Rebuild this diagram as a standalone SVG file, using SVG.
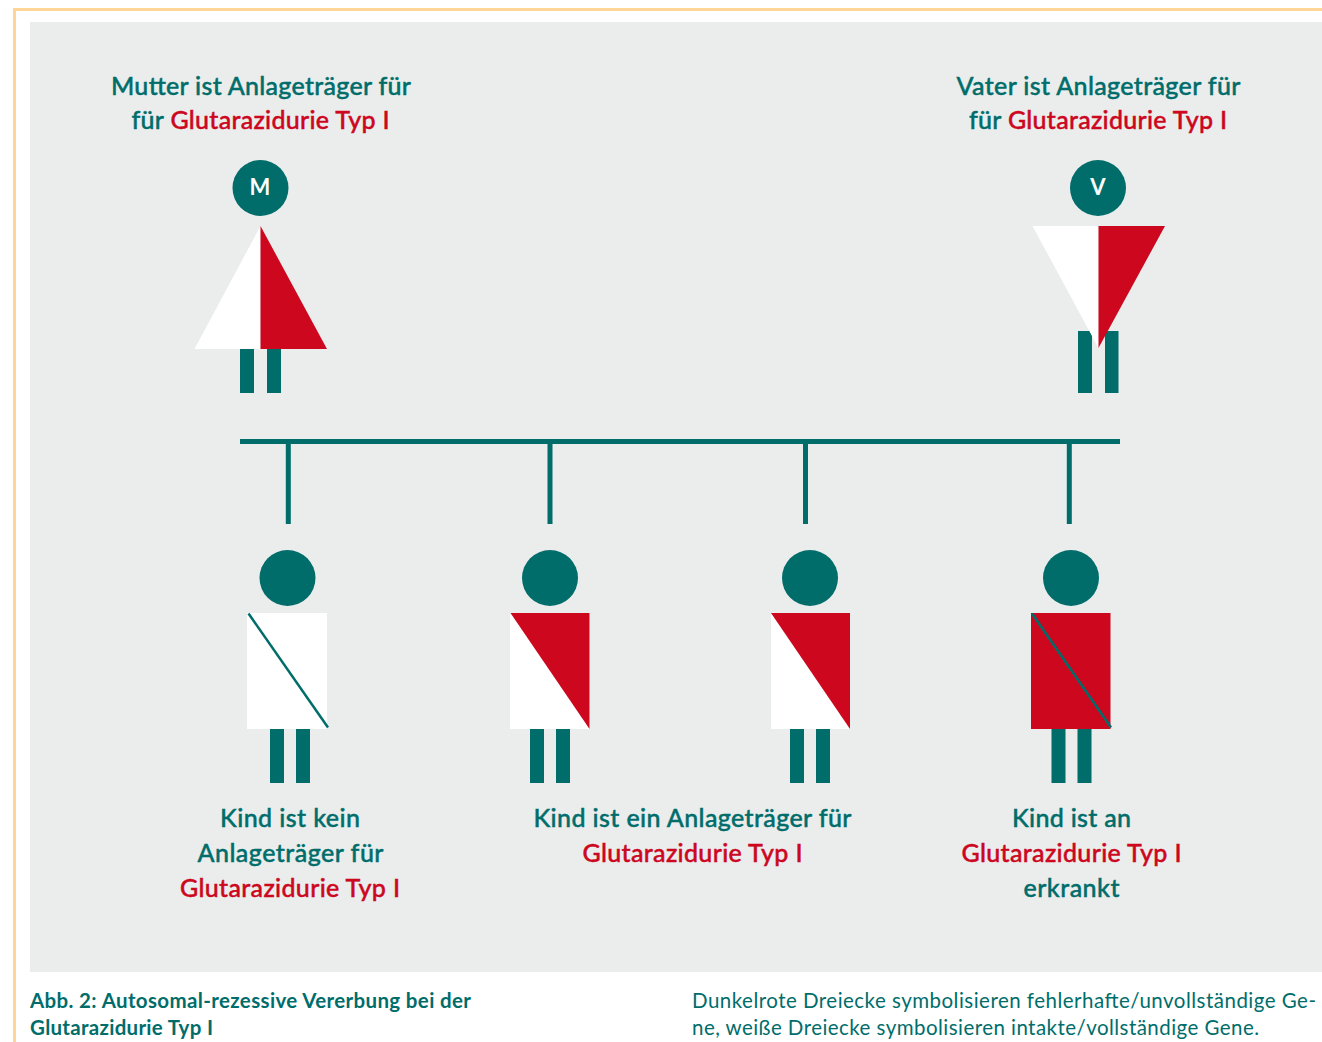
<svg xmlns="http://www.w3.org/2000/svg" width="1322" height="1042" viewBox="0 0 1322 1042">
<style>
text{font-family:"Lato","Noto Sans","Liberation Sans",sans-serif}
.l{font-size:25px;font-weight:500;fill:#006d6b;stroke:#006d6b;stroke-width:.45px;text-anchor:middle}
.r{fill:#cc071e;stroke:#cc071e}
.t{fill:#006d6b}
.w{fill:#fff}
.h{fill:#cc071e}
.i{font-size:20.500px;fill:#006d6b}
.b{font-weight:700}
.c{stroke:#006d6b;fill:none}
</style>
<rect width="1322" height="1042" fill="#fff"/>
<path d="M14.500 1042V9.500H1322" fill="none" stroke="#fdd595" stroke-width="3"/>
<rect x="30" y="22" width="1292" height="950" fill="#ebeded"/>
<g id="connectors">
<path class="c" stroke-width="5" d="M240 441.500H1120"/>
<path class="c" stroke-width="5" d="M288.300 441V524M550 441V524M805.500 441V524M1069.300 441V524"/>
</g>
<g id="mother">
<text class="l" x="261" y="94.500" textLength="300">Mutter ist Anlageträger für</text>
<text class="l" x="260.500" y="128.500" textLength="258">für <tspan class="r">Glutarazidurie Typ I</tspan></text>
<circle class="t" cx="260.500" cy="188" r="28"/>
<text x="260" y="195" font-size="22" font-weight="700" fill="#fff" text-anchor="middle">M</text>
<rect class="t" x="240" y="349" width="14" height="44"/><rect class="t" x="267" y="349" width="14" height="44"/>
<path class="w" d="M260.500 226V349H194.500Z"/><path class="h" d="M260.500 226V349H327Z"/>
</g>
<g id="father">
<text class="l" x="1098.500" y="94.500" textLength="284">Vater ist Anlageträger für</text>
<text class="l" x="1098" y="128.500" textLength="258">für <tspan class="r">Glutarazidurie Typ I</tspan></text>
<circle class="t" cx="1098" cy="188" r="28"/>
<text x="1098" y="195" font-size="22" font-weight="700" fill="#fff" text-anchor="middle">V</text>
<rect class="t" x="1078" y="331" width="14" height="62"/><rect class="t" x="1105" y="331" width="13.500" height="62"/>
<path class="w" d="M1098.500 348V226H1032.500Z"/><path class="h" d="M1098.500 348V226H1165Z"/>
</g>
<g id="child1">
<circle class="t" cx="287.500" cy="578" r="28"/>
<rect class="t" x="270" y="729" width="14" height="54"/><rect class="t" x="296" y="729" width="14" height="54"/>
<rect class="w" x="247" y="613" width="80" height="116"/>
<path class="c" stroke-width="2.500" d="M248.500 613.500L328 727.500"/>
<text class="l" x="290" y="826.500" textLength="140">Kind ist kein</text>
<text class="l" x="290.500" y="861.500" textLength="186">Anlageträger für</text>
<text class="l r" x="290" y="896.500" textLength="220">Glutarazidurie Typ I</text>
</g>
<g id="child2">
<circle class="t" cx="550" cy="578" r="28"/>
<rect class="t" x="530" y="729" width="14" height="54"/><rect class="t" x="556" y="729" width="14" height="54"/>
<rect class="w" x="510" y="613" width="79.500" height="116"/>
<path class="h" d="M510.500 613H589.500V729Z"/>
</g>
<g id="child3">
<circle class="t" cx="810" cy="578" r="28"/>
<rect class="t" x="790" y="729" width="14" height="54"/><rect class="t" x="816" y="729" width="14" height="54"/>
<rect class="w" x="771" y="613" width="79" height="116"/>
<path class="h" d="M771 613H850V729Z"/>
</g>
<g id="child23label">
<text class="l" x="692.500" y="826.500" textLength="318">Kind ist ein Anlageträger für</text>
<text class="l r" x="692.500" y="861.500" textLength="220">Glutarazidurie Typ I</text>
</g>
<g id="child4">
<circle class="t" cx="1071" cy="578" r="28"/>
<rect class="t" x="1051.500" y="729" width="14" height="54"/><rect class="t" x="1077.500" y="729" width="14" height="54"/>
<rect class="h" x="1031" y="613" width="79.500" height="116"/>
<path class="c" stroke-width="2.500" d="M1032 613.500L1111 727.500"/>
<text class="l" x="1071.500" y="826.500" textLength="119">Kind ist an</text>
<text class="l r" x="1071.500" y="861.500" textLength="220">Glutarazidurie Typ I</text>
<text class="l" x="1071.500" y="896.500" textLength="96">erkrankt</text>
</g>
<g id="caption">
<text class="i b" x="30" y="1008" textLength="441">Abb. 2: Autosomal-rezessive Vererbung bei der</text>
<text class="i b" x="30" y="1035" textLength="183">Glutarazidurie Typ I</text>
<text class="i" x="692" y="1008" textLength="624">Dunkelrote Dreiecke symbolisieren fehlerhafte/unvollständige Ge-</text>
<text class="i" x="692" y="1035" textLength="567">ne, weiße Dreiecke symbolisieren intakte/vollständige Gene.</text>
</g>
</svg>
